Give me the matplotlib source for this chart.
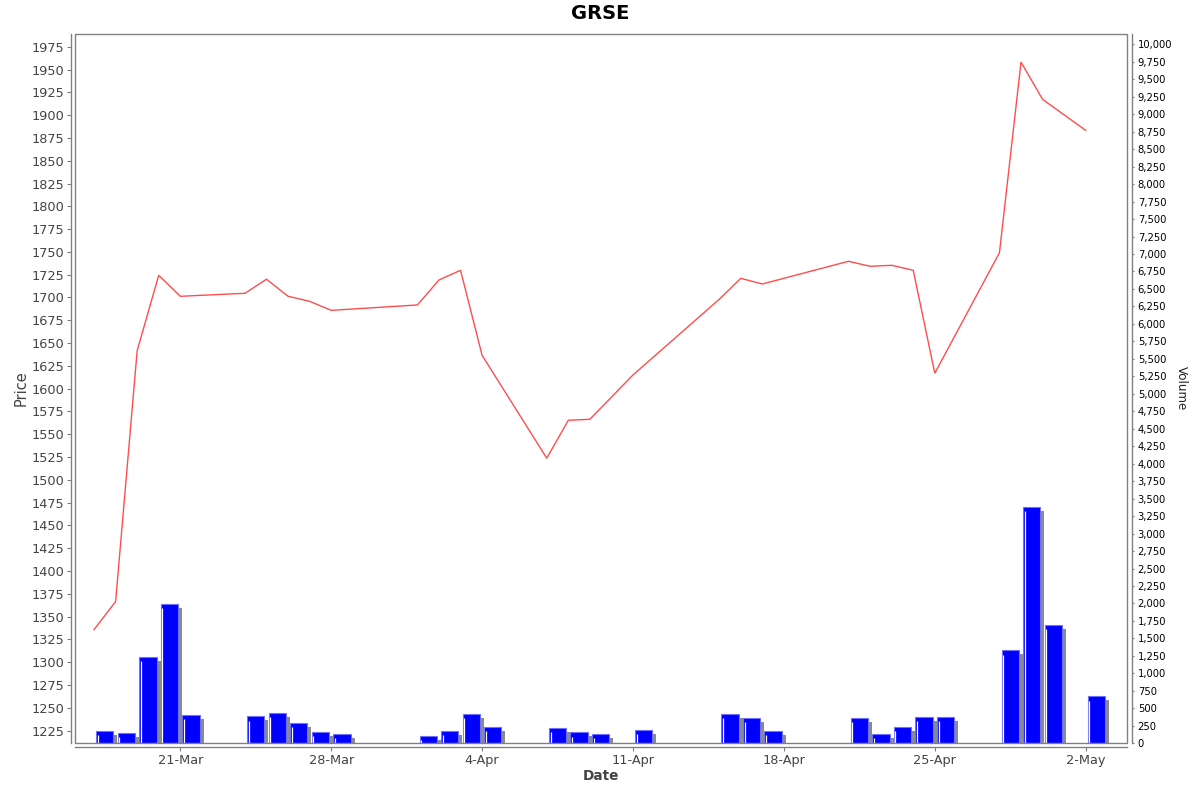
import matplotlib
matplotlib.use("Agg")
import matplotlib.pyplot as plt
import matplotlib.dates as mdates
import matplotlib.transforms as mtransforms
from matplotlib.patches import Rectangle
from matplotlib.ticker import FuncFormatter, MultipleLocator, FixedLocator
import numpy as np
import datetime as dt

# ---------------- data ----------------
dates = ["2025-03-17", "2025-03-18", "2025-03-19", "2025-03-20", "2025-03-21",
         "2025-03-24", "2025-03-25", "2025-03-26", "2025-03-27", "2025-03-28",
         "2025-04-01", "2025-04-02", "2025-04-03", "2025-04-04",
         "2025-04-07", "2025-04-08", "2025-04-09", "2025-04-11",
         "2025-04-15", "2025-04-16", "2025-04-17",
         "2025-04-21", "2025-04-22", "2025-04-23", "2025-04-24", "2025-04-25",
         "2025-04-28", "2025-04-29", "2025-04-30", "2025-05-02"]
price = [1335.7, 1366.4, 1641.7, 1724.3, 1701.3,
         1704.6, 1720.0, 1701.3, 1695.8, 1685.9,
         1691.8, 1719.2, 1729.8, 1636.6,
         1523.7, 1565.3, 1566.4, 1615.0,
         1698.0, 1721.0, 1714.8,
         1739.7, 1734.2, 1735.3, 1729.8, 1616.9,
         1749.1, 1958.2, 1917.3, 1883.3]
volume = [176, 147, 1240, 1998, 405,
          386, 439, 290, 167, 139,
          105, 172, 425, 238,
          219, 157, 129, 191,
          425, 362, 181,
          367, 139, 229, 381, 372,
          1330, 3386, 1698, 672]
tick_dates = ["2025-03-21", "2025-03-28", "2025-04-04", "2025-04-11",
              "2025-04-18", "2025-04-25", "2025-05-02"]
tick_labels = ["21-Mar", "28-Mar", "4-Apr", "11-Apr", "18-Apr", "25-Apr", "2-May"]
title = "GRSE"

# ---------------- figure ----------------
W, H, DPI = 1200, 792, 100
fig = plt.figure(figsize=(W / DPI, H / DPI), dpi=DPI)
fig.patch.set_facecolor("white")

ax = fig.add_axes([75.3 / W, 1 - 743.3 / H, (1127.3 - 75.3) / W, (743.3 - 34) / H])
ax2 = ax.twinx()

x = mdates.date2num([dt.datetime.strptime(d, "%Y-%m-%d") for d in dates])
xt = mdates.date2num([dt.datetime.strptime(d, "%Y-%m-%d") for d in tick_dates])
x0 = mdates.date2num(dt.datetime(2025, 3, 16)) + 0.13
x1 = mdates.date2num(dt.datetime(2025, 5, 3)) + 0.93

GRAY = "#808080"
TXT = "#444444"
px = 72.0 / DPI  # points per pixel

# price line
ax.plot(x, price, color="#ff4d4d", lw=1.0, zorder=3, solid_joinstyle="miter")
ax.set_xlim(x0, x1)
ax.set_ylim(1211.0, 1989.0)
ax.yaxis.set_major_locator(MultipleLocator(25))
ax.yaxis.set_major_formatter(FuncFormatter(lambda v, p: f"{v:.0f}"))
ax.xaxis.set_major_locator(FixedLocator(xt))
ax.set_xticklabels(tick_labels)

# volume bars
shadow_tr = ax2.transData + mtransforms.ScaledTranslation(4 / DPI, -4 / DPI, fig.dpi_scale_trans)
sh = ax2.bar(x + 0.1, volume, width=0.8, align="edge", color="#8a8a8a",
             edgecolor="none", zorder=1)
for p in sh.patches:
    p.set_transform(shadow_tr)
ax2.bar(x + 0.1, volume, width=0.8, align="edge", color="#0000ff",
        edgecolor="#7070ff", linewidth=0.8, zorder=2)
white_tr = ax2.transData + mtransforms.ScaledTranslation(1.6 / DPI, 0, fig.dpi_scale_trans)
ax2.vlines(x + 0.1, 0, np.array(volume) - 60, colors="white", lw=0.9,
           transform=white_tr, zorder=2.5)
ax2.set_ylim(0, 10147)
ax2.yaxis.set_major_locator(MultipleLocator(250))
ax2.yaxis.set_major_formatter(FuncFormatter(lambda v, p: f"{v:,.0f}"))
ax2.set_xlim(x0, x1)

# spines
for s in ["top", "right"]:
    ax.spines[s].set_visible(False)
for s in ["top", "left", "bottom"]:
    ax2.spines[s].set_visible(False)
ax.spines["left"].set_position(("outward", 4 * px))
ax.spines["bottom"].set_position(("outward", 4 * px))
ax2.spines["right"].set_position(("outward", 4.4 * px))
for sp in [ax.spines["left"], ax.spines["bottom"], ax2.spines["right"]]:
    sp.set_color(GRAY)
    sp.set_linewidth(1.0)

frame = Rectangle((0, 0), 1, 1, transform=ax2.transAxes, fill=False,
                  edgecolor=GRAY, lw=1.0, clip_on=False, zorder=5)
ax2.add_patch(frame)

ax.tick_params(axis="y", direction="out", length=3.7 * px, width=0.8, color=GRAY,
               pad=3.5 * px, labelsize=9.3, labelcolor=TXT)
ax.tick_params(axis="x", direction="out", length=4 * px, width=0.8, color=GRAY,
               pad=2.5 * px, labelsize=9.3, labelcolor=TXT)
ax2.tick_params(axis="y", direction="out", length=2.5 * px, width=0.8, color=GRAY,
                pad=3.5 * px, labelsize=7.2, labelcolor="black")

# texts
fig.text(600 / W, 1 - 13.7 / H, title, ha="center", va="center",
         fontsize=14, fontweight="bold", color="black")
fig.text(600.7 / W, 1 - 775.7 / H, "Date", ha="center", va="center",
         fontsize=9.8, fontweight="bold", color=TXT)
fig.text(20.7 / W, 1 - 388.5 / H, "Price", ha="center", va="center",
         fontsize=10.5, rotation=90, color=TXT)
fig.text(1181 / W, 1 - 388.5 / H, "Volume", ha="center", va="center",
         fontsize=8.6, rotation=-90, color="#222222")

fig.savefig("out.png", dpi=DPI, facecolor="white")
